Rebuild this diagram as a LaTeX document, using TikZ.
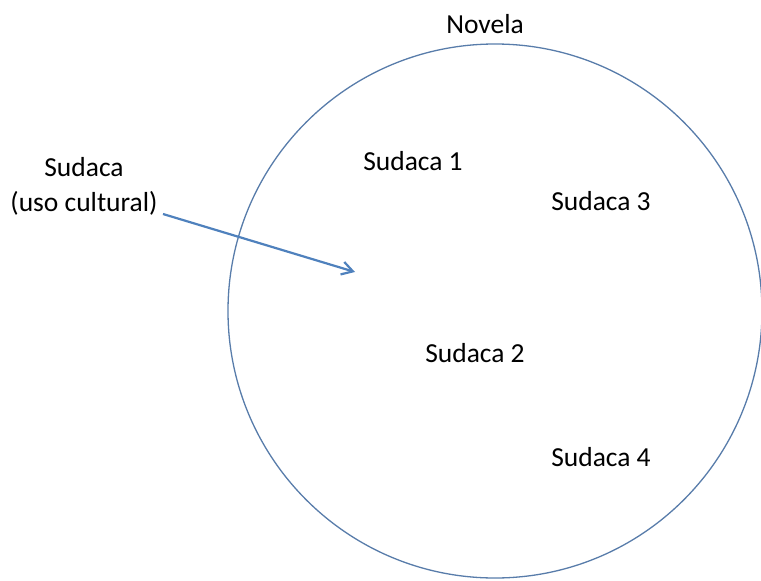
\documentclass[tikz,border=0pt]{standalone}
\usepackage{fontspec}
\setmainfont{Carlito}
\usetikzlibrary{arrows.meta, positioning}

\definecolor{ringblue}{RGB}{88,124,170}
\definecolor{arrowblue}{RGB}{79,129,189}

\tikzset{
	lbl/.style = {font=\fontsize{27.5}{35}\selectfont, inner sep=0pt, align=center},
	ring/.style = {draw=ringblue, line width=1.3pt, circle, minimum size=534pt, inner sep=0pt},
	pointer/.style = {draw=arrowblue, line width=2.2pt, -{Straight Barb[length=11pt, width=13pt, line width=2.2pt]}}
}

\begin{document}
\begin{tikzpicture}[x=1pt, y=-1pt]
	\useasboundingbox (0,0) rectangle (761,581);

	\node[ring] (novelaring) at (495,311) {};
	\node[lbl] (novela) at (485,24) {Novela};

	\node[lbl] (sud1) at (413,161) {Sudaca 1};
	\node[lbl] (sud3) at (601,201) {Sudaca 3};
	\node[lbl] (sud2) at (475,353) {Sudaca 2};
	\node[lbl] (sud4) at (601,457) {Sudaca 4};

	\node[lbl] (sudaca) at (84,186) {Sudaca\\(uso cultural)};

	% flecha hacia dentro
	\coordinate (tail) at (163,214);
	\coordinate (tip) at (355,272);
	\draw[pointer] (tail) -- (tip);
\end{tikzpicture}
\end{document}
